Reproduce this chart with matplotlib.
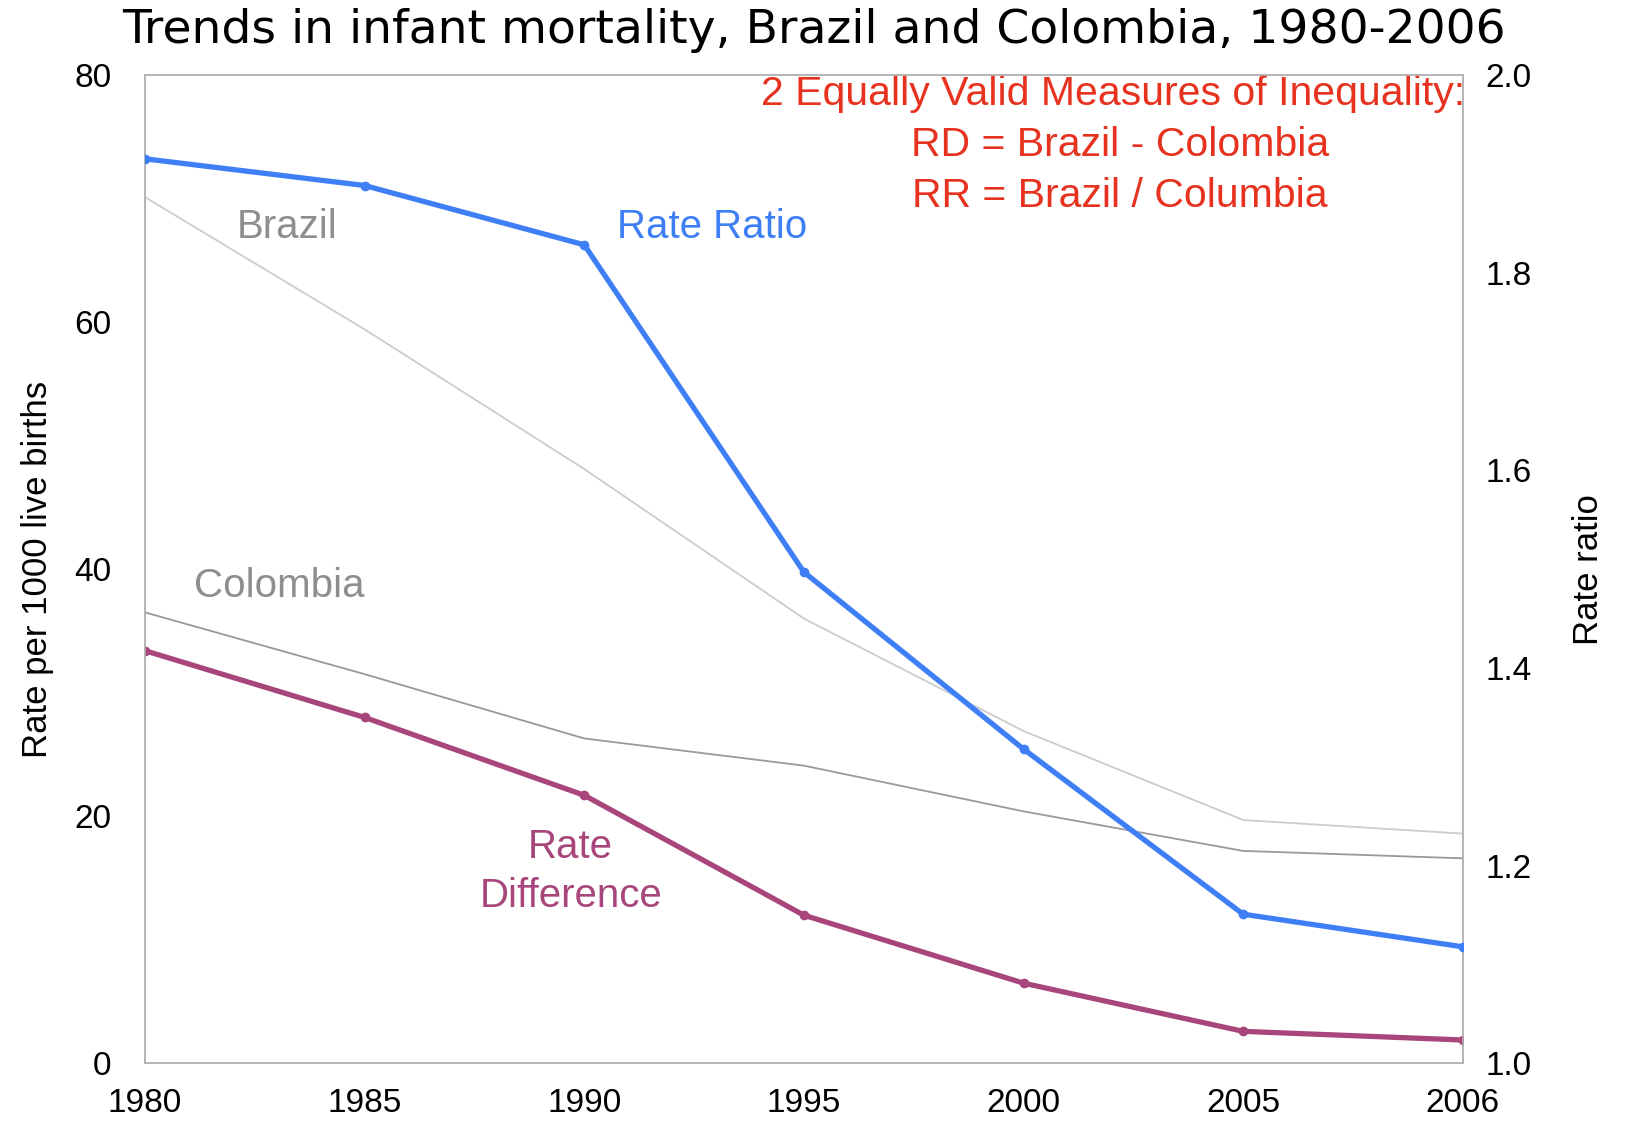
import matplotlib
matplotlib.use("Agg")
import matplotlib.pyplot as plt

# --- data ---
years = ["1980", "1985", "1990", "1995", "2000", "2005", "2006"]
brazil = [70.1, 59.4, 48.1, 36.0, 26.9, 19.7, 18.6]
colombia = [36.5, 31.5, 26.3, 24.1, 20.4, 17.2, 16.6]
rate_diff = [33.4, 28.0, 21.7, 12.0, 6.5, 2.6, 1.9]
rate_ratio = [1.915, 1.888, 1.828, 1.497, 1.318, 1.151, 1.118]

left_ticks = [0, 20, 40, 60, 80]
right_ticks = [1.0, 1.2, 1.4, 1.6, 1.8, 2.0]

blue = "#3f7ff6"
purple = "#a8467c"
red = "#e6321e"
spine_c = "#b4b4b4"
font = "Liberation Sans"

fig = plt.figure(figsize=(16.27, 11.21), dpi=100)
ax = fig.add_axes([0.0891, 0.0513, 0.8100, 0.8820])
ax2 = ax.twinx()

x = list(range(len(years)))
ax.plot(x, brazil, color="#cccccc", lw=1.3, zorder=2)
ax.plot(x, colombia, color="#999999", lw=1.3, zorder=2)
ax.plot(x, rate_diff, color=purple, lw=3.8, marker="o", ms=6, zorder=3)
ax2.plot(x, rate_ratio, color=blue, lw=3.8, marker="o", ms=6, zorder=3)

ax.set_xlim(0, len(years) - 1)
ax.set_ylim(0, 80)
ax2.set_ylim(1.0, 2.0)
ax.set_xticks(x, years)
ax.set_yticks(left_ticks, [str(t) for t in left_ticks])
ax2.set_yticks(right_ticks, [f"{t:.1f}" for t in right_ticks])
for a in (ax, ax2):
    a.tick_params(length=0, labelsize=24, labelfontfamily=font)
    for s in a.spines.values():
        s.set_color(spine_c)
        s.set_linewidth(1.2)
ax.tick_params(axis="y", pad=24)
ax.tick_params(axis="x", pad=18)
ax2.tick_params(axis="y", pad=16)

ax.set_ylabel("Rate per 1000 live births", fontname=font, fontsize=25)
ax.yaxis.set_label_coords(-0.069, 0.5)
ax2.set_ylabel("Rate ratio", fontname=font, fontsize=25, rotation=90)
ax2.yaxis.set_label_coords(1.083, 0.5)

fig.suptitle("Trends in infant mortality, Brazil and Colombia, 1980-2006",
             fontname="DejaVu Sans", fontsize=34, y=0.973, va="center")

ax.text(0.108, 0.846, "Brazil", transform=ax.transAxes, color="#8e8e8e",
        fontname=font, fontsize=29, ha="center", va="center")
ax.text(0.102, 0.483, "Colombia", transform=ax.transAxes, color="#8e8e8e",
        fontname=font, fontsize=29, ha="center", va="center")
ax.text(0.430, 0.846, "Rate Ratio", transform=ax.transAxes, color=blue,
        fontname=font, fontsize=29, ha="center", va="center")
ax.text(0.323, 0.194, "Rate\nDifference", transform=ax.transAxes, color=purple,
        fontname=font, fontsize=29, ha="center", va="center", linespacing=1.37)

ax.text(1.002, 0.981, "2 Equally Valid Measures of Inequality:", transform=ax.transAxes,
        color=red, fontname=font, fontsize=29.5, ha="right", va="center")
ax.text(0.740, 0.929, "RD = Brazil - Colombia", transform=ax.transAxes,
        color=red, fontname=font, fontsize=29.5, ha="center", va="center")
ax.text(0.740, 0.877, "RR = Brazil / Columbia", transform=ax.transAxes,
        color=red, fontname=font, fontsize=29.5, ha="center", va="center")

fig.savefig("out.png", dpi=100)
